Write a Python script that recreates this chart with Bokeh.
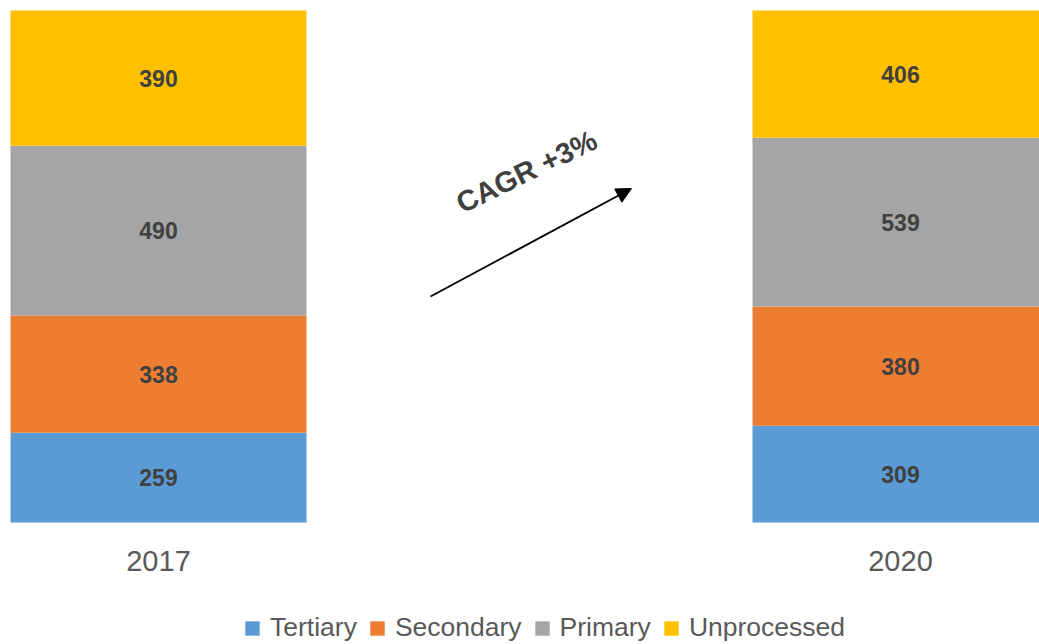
import math
from bokeh.plotting import figure
from bokeh.models import ColumnDataSource, Legend, LegendItem, Arrow, NormalHead, Label, LabelSet, Range1d
from bokeh.core.properties import value
from bokeh.embed import file_html
from bokeh.resources import INLINE

years = ["2017", "2020"]
segments = ["Tertiary", "Secondary", "Primary", "Unprocessed"]
tertiary = [259, 309]
secondary = [338, 380]
primary = [490, 539]
unprocessed = [390, 406]
colors = ["#5B9BD5", "#ED7D31", "#A5A5A5", "#FFC000"]

series = [tertiary, secondary, primary, unprocessed]
totals = [sum(s[i] for s in series) for i in range(len(years))]
xs = list(range(len(years)))

data = {"x": xs}
for name, vals in zip(segments, series):
    data[name] = [v / t for v, t in zip(vals, totals)]
source = ColumnDataSource(data)

p = figure(width=1039, height=644, output_backend="svg", toolbar_location=None,
           x_range=Range1d(-158 / 742, 881 / 742),
           y_range=Range1d(-122 / 512, 1 + 10 / 512),
           min_border=0)
p.outline_line_color = None
p.grid.visible = False
p.axis.visible = False

renderers = p.vbar_stack(segments, x="x", width=296 / 742, color=colors, source=source,
                         line_color=None)

# value labels
lx, ly, lt = [], [], []
for i in range(len(years)):
    base = 0.0
    for name, vals in zip(segments, series):
        share = vals[i] / totals[i]
        lx.append(xs[i]); ly.append(base + share / 2); lt.append(str(vals[i]))
        base += share
lsrc = ColumnDataSource(dict(x=lx, y=ly, t=lt))
p.add_layout(LabelSet(x="x", y="y", text="t", source=lsrc, text_align="center",
                      text_baseline="middle", text_font=value("Liberation Sans"),
                      text_font_size=value("23px"), text_font_style=value("bold"),
                      text_color=value("#404040")))

# category labels under the bars
ysrc = ColumnDataSource(dict(x=xs, y=[-38 / 512] * len(xs), t=years))
p.text(x="x", y="y", text="t", source=ysrc, text_align="center", text_baseline="middle",
       text_font=value("Liberation Sans"), text_font_size=value("29px"),
       text_color="#595959")

# arrow and CAGR label
p.add_layout(Arrow(end=NormalHead(size=15, fill_color="black", line_color="black"),
                   x_start=(430 - 158) / 742, y_start=(522 - 296) / 512,
                   x_end=(631 - 158) / 742, y_end=(522 - 188) / 512,
                   line_color="black", line_width=1.8))
p.add_layout(Label(x=(526 - 158) / 742, y=(522 - 171) / 512, text="CAGR +3%",
                   angle=26 * math.pi / 180, text_align="center", text_baseline="middle",
                   text_font="Liberation Sans", text_font_size="29px", text_font_style="bold",
                   text_color="#404040"))

legend = Legend(items=[LegendItem(label=n, renderers=[r]) for n, r in zip(segments, renderers)],
                orientation="horizontal", location=(243, 1),
                label_text_font="Liberation Sans", label_text_font_size="26.5px",
                label_text_color="#595959", glyph_width=18, glyph_height=18,
                spacing=11, label_standoff=9, padding=0, margin=0,
                border_line_color=None, background_fill_alpha=0)
p.add_layout(legend)

open("out.html", "w").write(file_html(p, INLINE))
